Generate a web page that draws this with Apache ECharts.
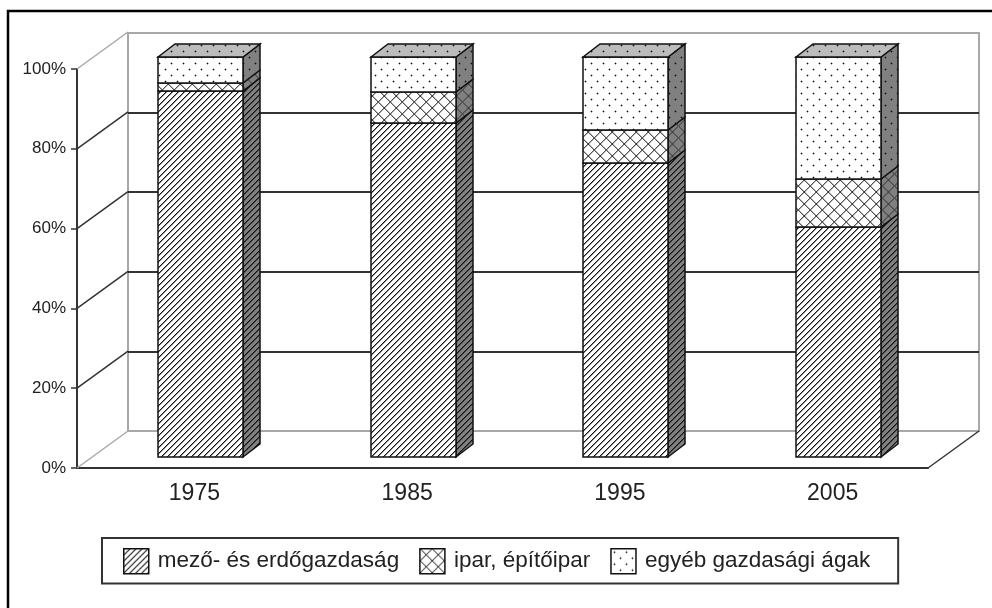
<!DOCTYPE html>
<html>
<head>
<meta charset="utf-8">
<style>
  html, body { margin: 0; padding: 0; background: #fff; }
  #main { width: 992px; height: 608px; }
</style>
<script src="https://cdn.jsdelivr.net/npm/echarts@6/dist/echarts.min.js"></script>
</head>
<body>
<div id="main"></div>
<script>
var years = ['1975', '1985', '1995', '2005'];
var agriculture = [91.5, 83.5, 73.5, 57.5];
var industry = [2, 7.75, 8.25, 12];
var other = [6.5, 8.75, 18.25, 30.5];
var yTicks = [0, 20, 40, 60, 80, 100];
var seriesNames = ['mező- és erdőgazdaság', 'ipar, építőipar', 'egyéb gazdasági ágak'];

var FONT = '"Liberation Sans", Arial, sans-serif';
var TEXT = '#222';
var LINE = '#333';
var WALL = '#a8a8a8';

// small tiles, the old office-chart fill patterns
function tile(size, bg, draw) {
  var c = document.createElement('canvas');
  c.width = size;
  c.height = size;
  var ctx = c.getContext('2d');
  ctx.fillStyle = bg;
  ctx.fillRect(0, 0, size, size);
  draw(ctx, size);
  return { image: c, repeat: 'repeat' };
}
function hatch(bg) {
  return tile(6, bg, function (ctx, s) {
    for (var i = 0; i < s; i++) {
      ctx.fillStyle = '#111';
      ctx.fillRect(i, s - 1 - i, 1, 1);
      ctx.fillStyle = 'rgba(0,0,0,0.45)';
      ctx.fillRect((i + 1) % s, s - 1 - i, 1, 1);
    }
  });
}
function cross(bg) {
  return tile(12, bg, function (ctx, s) {
    for (var i = 0; i < s; i++) {
      ctx.fillStyle = '#555';
      ctx.fillRect(i, i, 1, 1);
      ctx.fillRect(i, s - 1 - i, 1, 1);
      ctx.fillStyle = 'rgba(0,0,0,0.3)';
      ctx.fillRect((i + 1) % s, i, 1, 1);
      ctx.fillRect((i + 1) % s, s - 1 - i, 1, 1);
    }
  });
}
function dots(bg) {
  return tile(12, bg, function (ctx) {
    ctx.fillStyle = '#222';
    ctx.fillRect(3, 3, 1, 1);
    ctx.fillRect(9, 9, 1, 1);
    ctx.fillStyle = 'rgba(0,0,0,0.3)';
    ctx.fillRect(2, 3, 3, 1);
    ctx.fillRect(3, 2, 1, 3);
    ctx.fillRect(8, 9, 3, 1);
    ctx.fillRect(9, 8, 1, 3);
  });
}

var fills = [hatch, cross, dots];
var values = [agriculture, industry, other];
var DX = 17, DY = -13;

function stackedData(index) {
  return years.map(function (y, i) {
    var start = 0;
    for (var k = 0; k < index; k++) start += values[k][i];
    return [i, start, start + values[index][i]];
  });
}

function barSeries(index) {
  var front = fills[index]('#fff');
  var side = fills[index]('#808080');
  var top = fills[index]('#bcbcbc');
  var edge = { stroke: '#111', lineWidth: 1.5 };
  return {
    name: seriesNames[index],
    type: 'custom',
    xAxisIndex: 2,
    yAxisIndex: 2,
    z: 5,
    itemStyle: { color: front },
    encode: { x: 0, y: [1, 2] },
    data: stackedData(index),
    renderItem: function (params, api) {
      var w = api.size([1, 0])[0] * 0.4;
      var low = api.coord([api.value(0), api.value(1)]);
      var high = api.coord([api.value(0), api.value(2)]);
      var x0 = Math.round(low[0] - w / 2), x1 = x0 + Math.round(w);
      var y0 = low[1], y1 = high[1];
      var kids = [{
        type: 'polygon',
        shape: { points: [[x1, y0], [x1 + DX, y0 + DY], [x1 + DX, y1 + DY], [x1, y1]] },
        style: { fill: side, stroke: edge.stroke, lineWidth: edge.lineWidth }
      }, {
        type: 'rect',
        shape: { x: x0, y: y1, width: x1 - x0, height: y0 - y1 },
        style: { fill: front, stroke: edge.stroke, lineWidth: edge.lineWidth }
      }];
      if (api.value(2) >= 99.9) {
        kids.push({
          type: 'polygon',
          shape: { points: [[x0, y1], [x0 + DX, y1 + DY], [x1 + DX, y1 + DY], [x1, y1]] },
          style: { fill: top, stroke: edge.stroke, lineWidth: edge.lineWidth }
        });
      }
      return { type: 'group', children: kids };
    }
  };
}

// slanted lines joining the front axis to the back wall
var connectors = {
  type: 'custom',
  xAxisIndex: 0,
  yAxisIndex: 0,
  silent: true,
  z: 1,
  encode: { y: 1 },
  data: yTicks.map(function (v) { return [0, v]; }),
  renderItem: function (params, api) {
    var cs = params.coordSys;
    var v = api.value(1);
    var y = api.coord([0, v])[1];
    var kids = [{
      type: 'line',
      shape: { x1: cs.x, y1: y, x2: cs.x + 51, y2: y - 37 },
      style: { stroke: (v === 0 || v === 100) ? WALL : LINE, lineWidth: 1.5 }
    }];
    if (v === 0) {
      kids.push({
        type: 'line',
        shape: { x1: cs.x + cs.width, y1: y, x2: cs.x + cs.width + 51, y2: y - 37 },
        style: { stroke: LINE, lineWidth: 1.5 }
      });
    }
    return { type: 'group', children: kids };
  }
};

var chart = echarts.init(document.getElementById('main'));

var option = {
  animation: false,
  backgroundColor: '#fff',
  textStyle: { fontFamily: FONT },
  graphic: [{
    type: 'polyline',
    silent: true,
    shape: { points: [[8, 608], [8, 11], [992, 11]] },
    style: { fill: null, stroke: '#000', lineWidth: 2.5 }
  }],
  grid: [
    { left: 77, top: 69, width: 851, height: 399 },
    { left: 128, top: 33, width: 851, height: 398, show: true, borderColor: WALL, borderWidth: 2 },
    { left: 94.5, top: 57, width: 850, height: 400 }
  ],
  xAxis: [{
    gridIndex: 0,
    type: 'category',
    data: years,
    axisLine: { lineStyle: { color: LINE, width: 2 } },
    axisTick: { length: 5, lineStyle: { color: LINE, width: 1.5 } },
    axisLabel: { fontSize: 23, color: TEXT, margin: 14, padding: [0, 0, 0, 22], fontFamily: FONT }
  }, {
    gridIndex: 1,
    type: 'category',
    data: years,
    show: false
  }, {
    gridIndex: 2,
    type: 'category',
    data: years,
    show: false
  }],
  yAxis: [{
    gridIndex: 0,
    type: 'value',
    min: 0,
    max: 100,
    interval: 20,
    splitLine: { show: false },
    axisLine: { show: true, lineStyle: { color: LINE, width: 2 } },
    axisTick: { show: true, length: 6, lineStyle: { color: LINE, width: 1.5 } },
    axisLabel: { fontSize: 17, color: TEXT, margin: 11, formatter: '{value}%', fontFamily: FONT }
  }, {
    gridIndex: 1,
    type: 'value',
    min: 0,
    max: 100,
    interval: 20,
    axisLine: { show: false },
    axisTick: { show: false },
    axisLabel: { show: false },
    splitLine: { show: true, showMinLine: false, showMaxLine: false, lineStyle: { color: LINE, width: 2 } }
  }, {
    gridIndex: 2,
    type: 'value',
    min: 0,
    max: 100,
    show: false,
    splitLine: { show: false }
  }],
  legend: {
    left: 102,
    top: 538,
    padding: [10, 28, 9, 21],
    backgroundColor: '#fff',
    borderColor: LINE,
    borderWidth: 2,
    borderRadius: 0,
    itemWidth: 25,
    itemHeight: 25,
    itemGap: 20,
    icon: 'rect',
    selectedMode: false,
    textStyle: { fontSize: 22.5, color: TEXT, fontFamily: FONT, padding: [0, 0, 0, 4] },
    data: seriesNames.map(function (n, i) {
      return {
        name: n,
        itemStyle: { color: fills[i]('#fff'), borderColor: '#111', borderWidth: 1.5 }
      };
    })
  },
  series: [connectors, barSeries(0), barSeries(1), barSeries(2)]
};

chart.setOption(option);
</script>
</body>
</html>
